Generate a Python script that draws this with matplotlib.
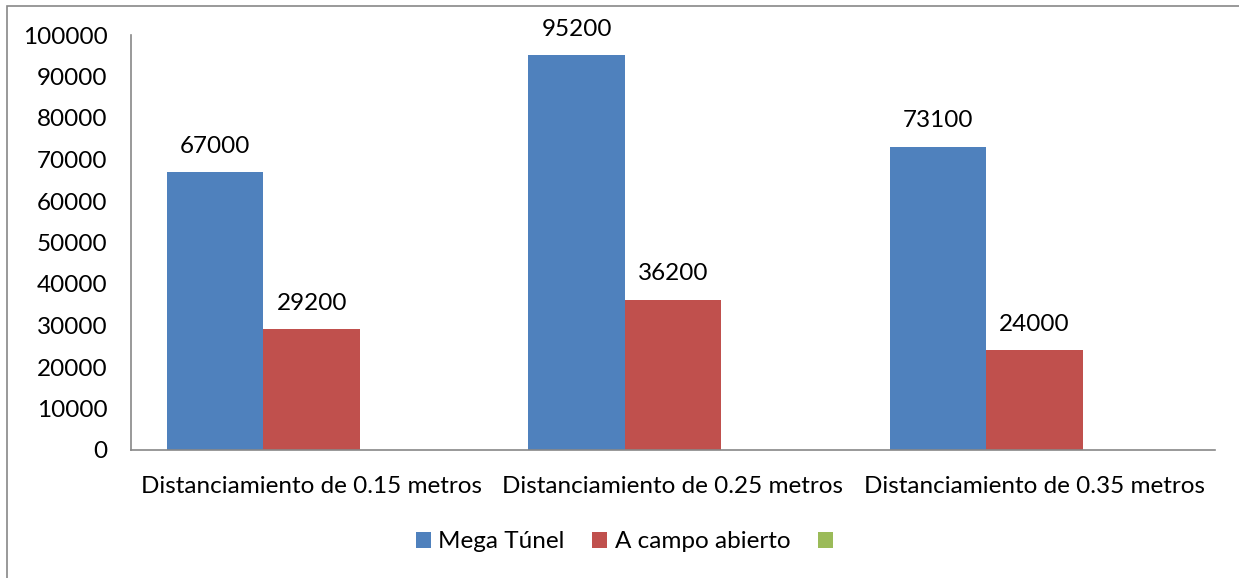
import numpy as np
import matplotlib.pyplot as plt
from matplotlib.patches import Rectangle

# --- Data ---
categories = ["Distanciamiento de 0.15 metros",
              "Distanciamiento de 0.25 metros",
              "Distanciamiento de 0.35 metros"]
mega_tunel = [67000, 95200, 73100]
campo_abierto = [29200, 36200, 24000]
tercera_serie = [np.nan, np.nan, np.nan]   # empty series in the original

series_names = ["Mega Túnel", "A campo abierto", ""]
COLORS = ["#4F81BD", "#C0504D", "#9BBB59"]
FS = 17.5

plt.rcParams['font.family'] = ['Lato', 'DejaVu Sans']
plt.rcParams['font.size'] = FS

fig = plt.figure(figsize=(12.39, 5.78), dpi=100)
ax = fig.add_axes([131 / 1239, 1 - 450 / 578, (1215 - 131) / 1239, (450 - 35) / 578])

# outer chart border (Excel chart area)
fig.patches.append(Rectangle((7 / 1239, -0.1), 1.2, 1 - 6 / 578 + 0.1, transform=fig.transFigure,
                             fill=False, edgecolor="#888888", linewidth=1.2))

x = np.arange(len(categories))
width = 1 / 3.75
all_series = [mega_tunel, campo_abierto, tercera_serie]
handles = []
for i, vals in enumerate(all_series):
    offs = (i - 1) * width
    bars = ax.bar(x + offs, np.nan_to_num(vals), width, color=COLORS[i], edgecolor="none")
    handles.append(bars)
    for xi, v in zip(x, vals):
        if not np.isnan(v):
            ax.annotate(f"{v:.0f}", (xi + offs, v), xytext=(0, 11), textcoords="offset points",
                        ha="center", va="bottom", fontsize=FS)

ax.set_xlim(-0.5, 2.5)
ax.set_ylim(0, 100000)
ax.set_yticks(np.arange(0, 100001, 10000))
ax.set_xticks(x)
ax.set_xticklabels(categories)
ax.tick_params(axis="both", length=0, labelsize=FS)
ax.tick_params(axis="x", pad=19)
ax.tick_params(axis="y", pad=17)

for s in ["top", "right"]:
    ax.spines[s].set_visible(False)
for s in ["left", "bottom"]:
    ax.spines[s].set_color("#888888")
    ax.spines[s].set_linewidth(1.2)

ax.legend(handles, series_names, loc="center", bbox_to_anchor=(0.5 * (418 + 838) / 1239, 1 - 542 / 578),
          bbox_transform=fig.transFigure, ncol=3, frameon=False, fontsize=FS,
          handlelength=0.62, handleheight=0.62, handletextpad=0.3, columnspacing=1.15)

fig.savefig("out.png", dpi=100)
